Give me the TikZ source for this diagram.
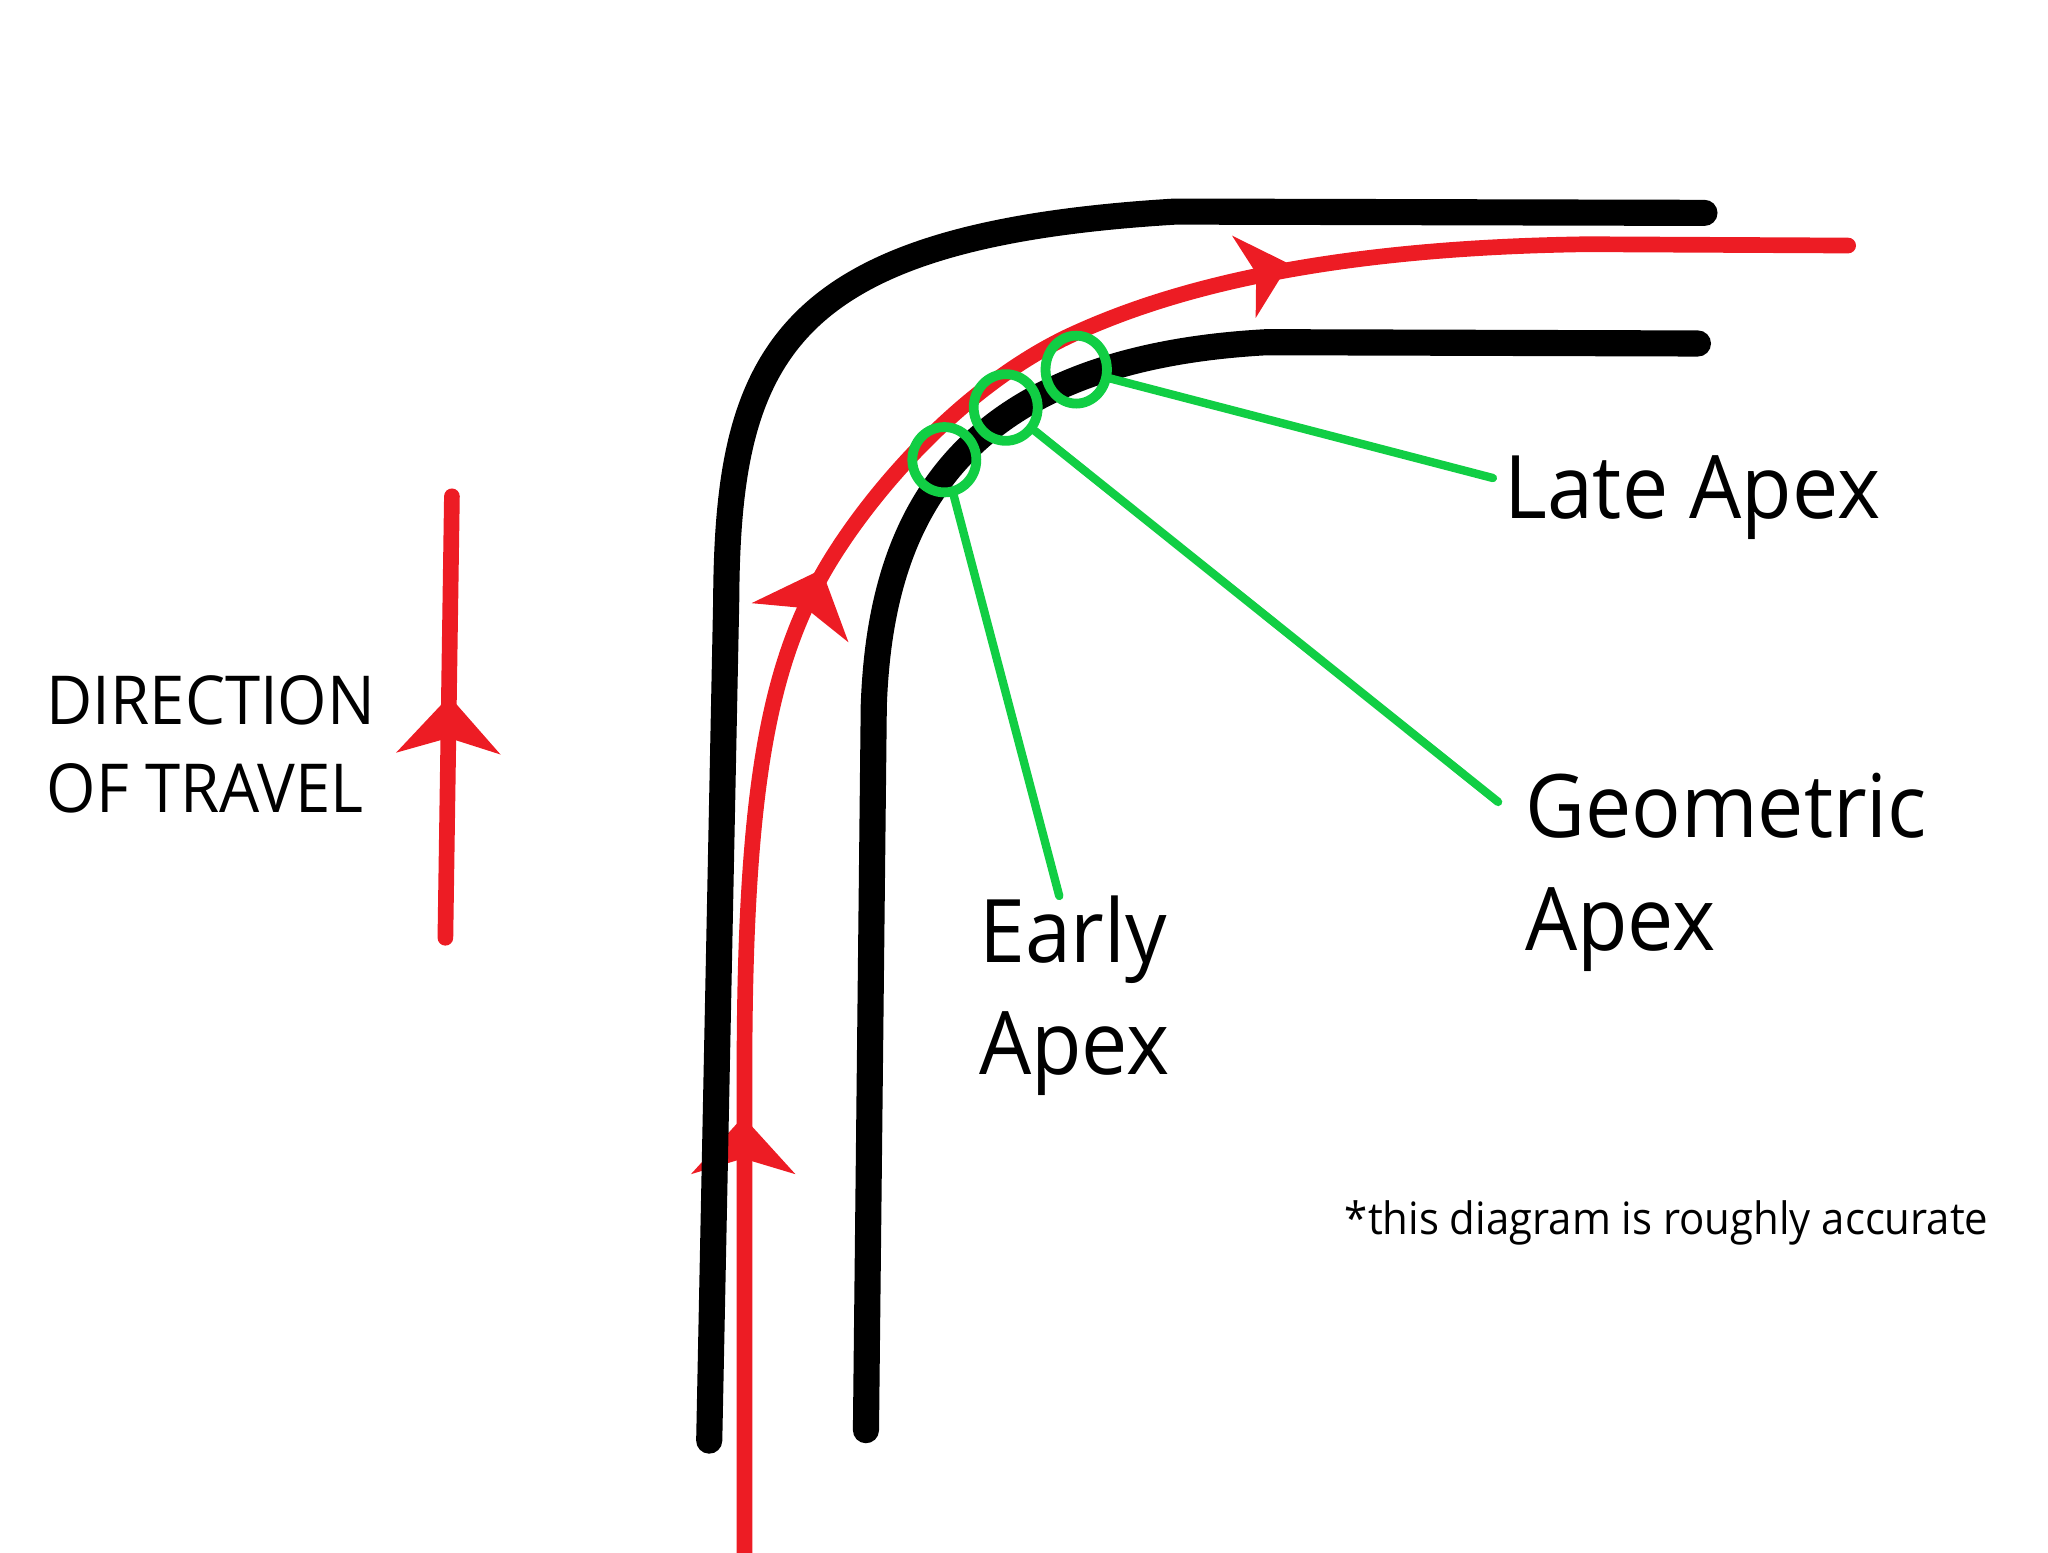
\documentclass[tikz,border=0pt]{standalone}
\usepackage{fontspec}
\setmainfont{Open Sans}[FakeStretch=0.94]
\usetikzlibrary{shapes.geometric}
\definecolor{tred}{RGB}{237,28,36}
\definecolor{tgreen}{RGB}{17,206,68}
\begin{document}
\begin{tikzpicture}[x=0.01cm,y=-0.01cm,
  blackline/.style={draw=black, line width=0.2cm, line cap=round, line join=round},
  redline/.style={draw=tred, line width=0.12cm, line cap=round, line join=round},
  apexring/.style={ellipse, draw=tgreen, line width=0.075cm, inner sep=0pt},
  leader/.style={draw=tgreen, line width=0.064cm, line cap=round},
  bigtxt/.style={anchor=base west, inner sep=0pt, font=\fontsize{19.1}{23}\selectfont},
  dirtxt/.style={anchor=base west, inner sep=0pt, font=\fontsize{14.7}{18}\selectfont},
  notetxt/.style={anchor=base west, inner sep=0pt, font=\fontsize{9.7}{11}\selectfont},
  redtip/.pic={\fill[tred] (0,0) -- (-44,40) -- (-32,0) -- (-44,-40) -- cycle;}
]
\useasboundingbox (0,0) rectangle (1568,1189);

% racing line
\draw[redline] (570,1210) -- (570,820)
  .. controls (570,600) and (590,510) .. (630,439)
  .. controls (660,386) and (730,300) .. (817,258)
  .. controls (885,226) and (1000,190) .. (1215,187)
  -- (1415,188);
\pic[rotate=90] at (569,855) {redtip};
\pic[rotate=68] at (629,436) {redtip};
\pic[rotate=16, scale=0.82] at (987,202) {redtip};

% direction of travel arrow
\draw[redline] (341,718) -- (346,380);
\pic[rotate=89] at (344,533) {redtip};

% track edges
\draw[blackline] (543,1103) -- (556,460) .. controls (557,270) and (600,180) .. (900,162) -- (1305,163);
\draw[blackline] (663,1095) -- (669,540) .. controls (674,400) and (730,275) .. (970,262) -- (1300,263);

% apex rings
\node[apexring, minimum width=0.49cm, minimum height=0.50cm] (early) at (723,352) {};
\node[apexring, minimum width=0.49cm, minimum height=0.51cm] (geo) at (770,312) {};
\node[apexring, minimum width=0.47cm, minimum height=0.52cm] (late) at (824,283) {};

\coordinate (lateEnd) at (1143,366);
\coordinate (geoEnd) at (1147,614);
\coordinate (earlyEnd) at (811,686);
\draw[leader] (late) -- (lateEnd);
\draw[leader] (geo) -- (geoEnd);
\draw[leader] (early) -- (earlyEnd);

% labels
\node[bigtxt] (lateT) at (1151,397) {Late Apex};
\node[bigtxt] (geoT1) at (1167,641) {Geometric};
\node[bigtxt] (geoT2) at (1167,728) {Apex};
\node[bigtxt] (earlyT1) at (749,737) {Early};
\node[bigtxt] (earlyT2) at (749,823) {Apex};
\node[dirtxt] (dir1) at (35,555) {DIRECTION};
\node[dirtxt] (dir2) at (35,622) {OF TRAVEL};
\node[notetxt] (note) at (1029,945) {*this diagram is roughly accurate};
\end{tikzpicture}
\end{document}
